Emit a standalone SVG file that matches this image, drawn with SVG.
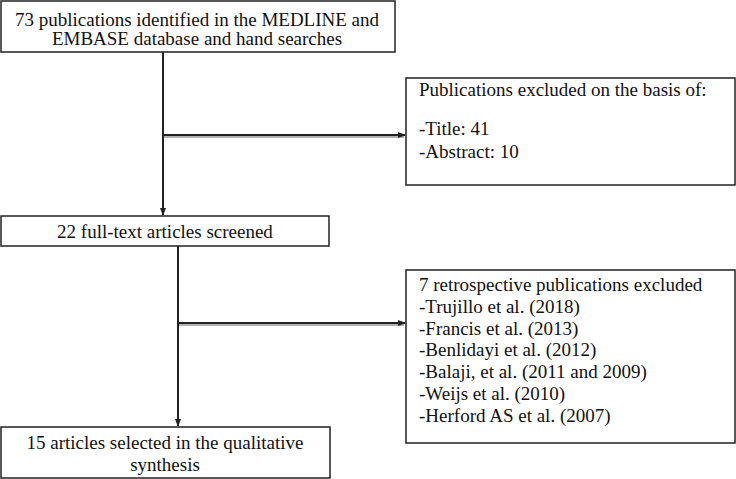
<svg xmlns="http://www.w3.org/2000/svg" width="736" height="479" viewBox="0 0 736 479">
<defs>
<marker id="ah" markerWidth="8" markerHeight="8" refX="7" refY="4" orient="auto" markerUnits="userSpaceOnUse">
<path d="M0,1 L8,4 L0,7 Z" fill="#222"/>
</marker>
<style>
.box{fill:#fff;stroke:#222;stroke-width:1.5}
.t{font-family:"Liberation Serif","Times New Roman",serif;font-size:19px;fill:#111}
.c{text-anchor:middle}
.ln{stroke:#222;stroke-width:2;fill:none}
.sh{stroke:#999;stroke-width:1.5;fill:none}
</style>
</defs>
<g id="connectors">
<line class="ln" x1="163" y1="52" x2="163" y2="215" marker-end="url(#ah)"/>
<line class="sh" x1="164" y1="137" x2="404" y2="137"/>
<line class="ln" x1="163" y1="135" x2="405" y2="135" marker-end="url(#ah)"/>
<line class="ln" x1="178" y1="246" x2="178" y2="426" marker-end="url(#ah)"/>
<line class="sh" x1="179" y1="325" x2="404" y2="325"/>
<line class="ln" x1="178" y1="323" x2="405" y2="323" marker-end="url(#ah)"/>
</g>
<g id="n1">
<rect class="box" x="1" y="1" width="394" height="51"/>
<text class="t c" x="197" y="26">73 publications identified in the MEDLINE and</text>
<text class="t c" x="197" y="45">EMBASE database and hand searches</text>
</g>
<g id="n2">
<rect class="box" x="406" y="78" width="329" height="107"/>
<text class="t" x="419" y="96">Publications excluded on the basis of:</text>
<text class="t" x="419" y="135">-Title: 41</text>
<text class="t" x="419" y="158">-Abstract: 10</text>
</g>
<g id="n3">
<rect class="box" x="1" y="216" width="328" height="30"/>
<text class="t c" x="165" y="238">22 full-text articles screened</text>
</g>
<g id="n4">
<rect class="box" x="406" y="270" width="329" height="173"/>
<text class="t" x="419" y="291">7 retrospective publications excluded</text>
<text class="t" x="419" y="313">-Trujillo et al. (2018)</text>
<text class="t" x="419" y="335">-Francis et al. (2013)</text>
<text class="t" x="419" y="356">-Benlidayi et al. (2012)</text>
<text class="t" x="419" y="378">-Balaji, et al. (2011 and 2009)</text>
<text class="t" x="419" y="400">-Weijs et al. (2010)</text>
<text class="t" x="419" y="422">-Herford AS et al. (2007)</text>
</g>
<g id="n5">
<rect class="box" x="1" y="427" width="329" height="51"/>
<text class="t c" x="165" y="449">15 articles selected in the qualitative</text>
<text class="t c" x="165" y="471">synthesis</text>
</g>
</svg>
